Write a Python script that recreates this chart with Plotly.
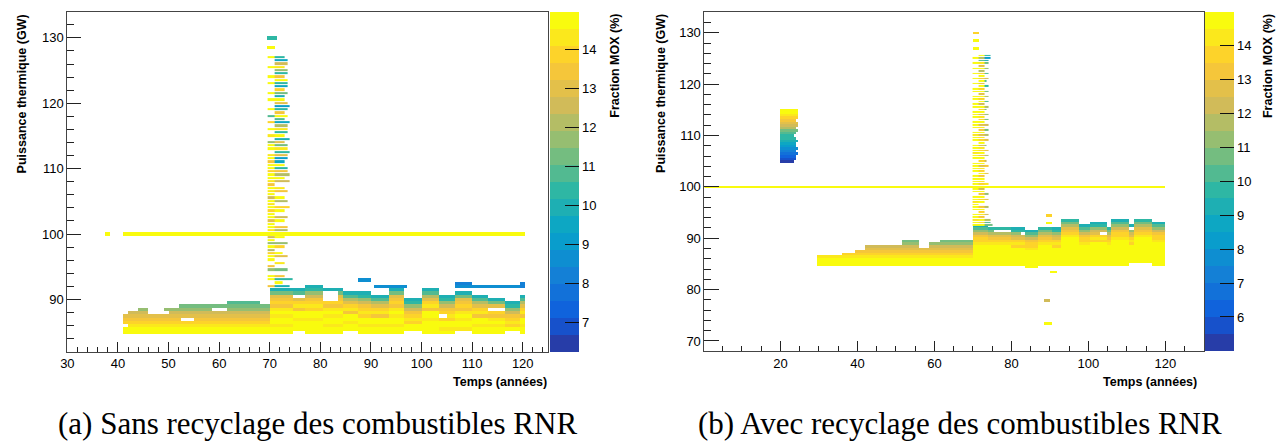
import numpy as np
import plotly.graph_objects as go

NAN = np.nan

# ---------------------------------------------------------------- binning
BIN = 0.5
X_EDGES = np.arange(0.0, 130.0 + BIN / 2, BIN)
Y_EDGES = np.arange(67.75, 134.25 + BIN / 2, BIN)
XC = (X_EDGES[:-1] + X_EDGES[1:]) / 2
YC = (Y_EDGES[:-1] + Y_EDGES[1:]) / 2

# ================================================================ panel (a)
# band before 2070 : x segments, top row (GW), colour by absolute power row
a_pre_x0 = [41, 42, 44, 46, 49, 52, 55.5, 61.5, 68]
a_pre_x1 = [42, 44, 46, 49, 52, 55.5, 61.5, 68, 70]
a_pre_top = [87.5, 88.0, 88.5, 87.5, 88.5, 89.0, 89.0, 89.5, 89.0]
a_pre_bottom = 85.0
# MOX fraction for rows 85.0, 85.5, ... 89.5 GW
a_pre_profile = [14.9, 14.7, 14.3, 13.9, 13.5, 13.0, 12.4, 11.9, 11.3, 10.7]

# band after 2070 : colour read downward from the top row of each segment
a_post_x0 = [70, 74.5, 77, 80.5, 84.5, 87.5, 90, 93.5, 96.5, 100, 103.5, 106.5, 110, 113, 116.5, 119.5]
a_post_x1 = [74.5, 77, 80.5, 84.5, 87.5, 90, 93.5, 96.5, 100, 103.5, 106.5, 110, 113, 116.5, 119.5, 120.5]
a_post_top = [91.5, 91.5, 92.0, 91.5, 91.0, 91.0, 90.5, 91.5, 90.0, 91.5, 90.5, 91.0, 90.5, 90.0, 89.5, 90.5]
a_post_bottom = [85.0, 85.5, 85.0, 85.0, 85.5, 85.0, 85.0, 85.0, 85.5, 85.0, 85.0, 85.5, 85.0, 85.0, 85.5, 85.0]
a_post_kind = [1, 0, 2, 1, 0, 2, 0, 1, 2, 0, 2, 1, 0, 1, 2, 0]
a_prof_0 = [9.9, 10.9, 12.1, 13.2, 13.7, 14.1, 13.6, 14.6, 14.9, 14.3, 14.8, 14.9, 14.6, 14.9, 15.0]
a_prof_1 = [10.1, 11.4, 12.8, 13.6, 13.9, 13.5, 14.4, 14.8, 14.2, 14.9, 14.9, 14.5, 14.9, 15.0, 14.8]
a_prof_2 = [9.8, 10.6, 11.6, 12.6, 13.4, 13.8, 14.2, 13.7, 14.8, 14.9, 14.4, 14.9, 15.0, 14.7, 14.9]

# empty rows inside the bands (x0, x1, y)
a_hole_x0 = [41, 48, 52.5, 58.5, 80.5, 80.5, 80.5, 74.5, 113, 103.5]
a_hole_x1 = [42, 50, 55, 61.5, 83.5, 83.5, 83.5, 77, 116.5, 105]
a_hole_y = [86.0, 88.0, 87.0, 88.5, 90.0, 90.5, 91.0, 90.5, 88.5, 87.5]

# spike around 2070, rows from 127.0 GW down to 92.0 GW
a_spike_top = 127.0
a_spike_a = [15.0, NAN, NAN, 14.8, NAN, NAN, 14.6, NAN, 14.9, NAN,
             NAN, 14.7, NAN, 14.9, NAN, NAN, 14.8, NAN, 10.8, NAN,
             13.8, NAN, 14.9, NAN, 14.5, NAN, 11.6, 14.7, 14.9, NAN,
             14.2, 14.8, 13.6, 14.9, 14.6, 13.9, 14.9, 14.7, 14.4, 13.5,
             14.9, 14.1, 14.8, 12.6, 14.9, 14.3, 14.9, 13.7, 14.8, 14.9,
             12.9, 14.7, 14.9, 14.2, 15.0, 12.4, 14.8, 11.8, 14.6, 12.2,
             13.8, 14.9, 14.9, NAN, 13.6, 11.7, NAN, 14.8, 14.9, NAN,
             13.4]
a_spike_b = [10.6, 9.7, 12.6, 14.4, 11.8, 10.2, 13.3, 14.7, 10.4, 9.3,
             13.8, 11.4, 10.1, 14.6, 12.8, 9.2, 10.5, 13.6, 14.8, 10.9,
             9.6, 12.2, 14.2, 10.4, 14.9, 9.9, 12.9, 11.3, 14.5, 10.6,
             13.2, 8.9, 9.3, 14.7, 10.2, 13.6, 12.1, 14.6, 12.6, NAN,
             14.3, 13.4, NAN, 14.8, 12.2, NAN, 13.8, 14.6, NAN, 12.7,
             14.9, NAN, 13.5, 12.3, 15.0, 14.7, NAN, 11.6, 13.9, NAN,
             14.8, 12.9, NAN, 14.3, NAN, 11.2, NAN, 13.6, 10.3, 14.9,
             10.1]
a_spike_b_end = [73.0, 73.5, 73.5, 73.0, 73.5, 73.5, 73.0, 73.5, 73.5, 73.5,
                 73.0, 73.5, 73.0, 73.0, 73.5, 74.0, 73.5, 73.0, 73.5, 73.0,
                 74.0, 73.5, 73.5, 73.5, 73.0, 74.0, 73.0, 73.5, 73.5, 74.0,
                 73.5, 73.5, 73.0, 73.0, 73.5, 73.5, 74.0, 73.0, 74.0, 73.0,
                 73.0, 73.5, 73.0, 73.0, 73.5, 73.0, 74.0, 73.0, 73.0, 73.5,
                 73.0, 73.0, 73.5, 73.5, 73.0, 73.0, 73.0, 73.5, 73.0, 73.0,
                 72.5, 73.5, 73.0, 73.0, 73.0, 73.5, 73.0, 73.0, 74.5, 72.5,
                 74.0]
a_spike_a_x = (69.5, 71.0)

# single bins drawn on top (line at 100 GW, isolated points, blue rows)
a_bar_x0 = [37.5, 41.0, 69.5, 69.5, 87.5, 90.5, 106.5, 106.5, 119.5, 119.5]
a_bar_x1 = [38.5, 120.5, 71.5, 71.0, 90.0, 97.0, 110.0, 119.5, 120.5, 120.5]
a_bar_y = [100.0, 100.0, 130.0, 128.5, 93.0, 92.0, 92.5, 92.0, 92.0, 92.5]
a_bar_z = [15.0, 15.0, 10.3, 14.9, 8.6, 8.6, 8.4, 8.6, 8.3, 8.3]

a_zmin, a_zmax = 6.24, 14.96
a_ticks = [7, 8, 9, 10, 11, 12, 13, 14]

# ================================================================ panel (b)
b_pre_x0 = [29.5, 36, 39.5, 42, 51.5, 56, 58.5, 61.5]
b_pre_x1 = [36, 39.5, 42, 51.5, 56, 58.5, 61.5, 70]
b_pre_top = [86.5, 87.0, 87.5, 88.5, 89.5, 88.0, 89.0, 89.5]
b_pre_bottom = 85.0
b_pre_profile = [15.0, 14.8, 14.5, 14.1, 13.7, 13.3, 12.7, 12.0, 11.3, 10.6]

b_post_x0 = [70, 74, 80, 83.5, 87, 90.5, 93, 97.5, 100.5, 105, 106, 110.5, 112, 116.5]
b_post_x1 = [74, 80, 83.5, 87, 90.5, 93, 97.5, 100.5, 105, 106, 110.5, 112, 116.5, 120]
b_post_top = [92.5, 92.0, 92.0, 91.5, 92.0, 92.0, 93.5, 92.5, 93.0, 92.0, 93.5, 92.5, 93.5, 93.0]
b_post_bottom = [85.0, 85.0, 85.0, 84.5, 85.0, 85.0, 85.0, 85.0, 85.0, 85.0, 85.0, 85.5, 85.5, 85.0]
b_post_kind = [0, 1, 2, 0, 1, 2, 1, 0, 2, 1, 0, 2, 1, 0]
b_prof_0 = [9.4, 10.2, 11.3, 12.4, 13.1, 13.6, 13.9, 14.3, 14.8, 14.6, 14.9, 15.0, 14.7, 15.0, 14.9, 15.0, 15.0, 14.8, 15.0]
b_prof_1 = [9.6, 10.6, 11.8, 12.7, 13.4, 13.8, 14.2, 14.6, 14.9, 15.0, 14.5, 14.9, 15.0, 14.8, 15.0, 14.9, 15.0, 15.0, 14.9]
b_prof_2 = [9.2, 9.9, 11.0, 12.1, 12.9, 13.5, 14.0, 13.7, 14.5, 14.9, 15.0, 14.8, 15.0, 14.9, 14.6, 15.0, 14.9, 15.0, 15.0]

b_hole_x0 = [110.5, 82.5, 75.5, 103.0]
b_hole_x1 = [112.0, 83.5, 80.0, 105.0]
b_hole_y = [92.0, 91.0, 91.5, 91.0]

# spike around 2070, rows from 125.5 GW down to 92.5 GW
b_spike_top = 125.5
b_spike_a = [NAN, 14.9, NAN, 14.8, NAN, 14.9, NAN, 14.7, NAN, 14.9,
             NAN, 14.8, NAN, 14.6, 14.9, NAN, 14.8, 14.9, NAN, 14.7,
             14.9, NAN, 14.8, 14.9, 14.5, NAN, 14.9, 14.6, 14.9, NAN,
             14.8, 14.3, 14.9, 14.7, NAN, 14.9, 14.6, 14.9, 14.4, 14.8,
             14.9, NAN, 14.7, 14.9, 14.6, 14.9, NAN, 14.8, 14.9, 14.5,
             14.9, 15.0, 14.7, 14.9, NAN, 14.8, 14.9, 14.4, 14.9, 14.6,
             14.9, NAN, 14.8, 14.9, 14.3, 14.9, 14.7]
b_spike_b = [14.6, 11.8, 10.3, 14.2, 12.7, 14.6, 11.6, 13.9, 14.8, 13.4,
             14.5, 12.6, 14.9, 13.8, 14.7, 12.9, 14.5, 13.6, 14.8, 12.2,
             14.6, 13.8, 14.9, 12.8, 14.3, 13.5, 14.8, 12.5, 14.1, 13.2,
             14.9, 12.9, 14.4, 13.6, 14.8, 12.4, 14.2, 13.7, 14.9, 13.1,
             14.5, 13.8, 14.9, 12.7, 14.3, 13.9, 14.7, 13.4, 14.9, 14.2,
             13.6, 15.0, 12.2, 14.6, 13.3, 14.8, 13.9, 14.5, NAN, 13.2,
             14.7, 13.7, 14.4, 13.0, 14.8, 13.5, 14.9]
b_spike_c = [9.6, 8.0, 9.0, 10.6, NAN, 11.2, NAN, 10.1, NAN, 12.0,
             10.4, NAN, 9.9, NAN, 10.8, NAN, 11.5, NAN, 10.2, NAN,
             11.9, 10.5, NAN, 11.4, NAN, 10.9, NAN, 12.3, NAN, 10.7,
             NAN, 11.8, NAN, 12.6, NAN, 11.1, NAN, 12.8, NAN, 11.6,
             NAN, 12.4, NAN, 13.0, NAN, NAN, 12.9, NAN, NAN, NAN,
             14.0, NAN, NAN, NAN, 11.0, NAN, 12.6, NAN, NAN, 11.5,
             NAN, NAN, 12.1, NAN, 11.7, 10.2, 10.6]
b_spike_c_end = [74.5, 74.5, 74.0, 74.0, 74.0, 74.0, 74.0, 74.0, 74.0, 74.0,
                 73.5, 74.0, 74.0, 74.0, 74.0, 74.0, 74.0, 74.0, 74.0, 74.0,
                 74.0, 73.5, 74.0, 74.0, 74.0, 74.0, 74.0, 74.0, 74.0, 74.0,
                 74.0, 74.0, 74.0, 74.0, 74.0, 73.5, 74.0, 74.0, 74.0, 74.0,
                 74.0, 73.5, 74.0, 74.0, 74.0, 74.0, 74.0, 74.0, 74.0, 74.0,
                 74.0, 74.0, 74.0, 74.0, 74.0, 74.0, 74.0, 74.0, 74.0, 74.0,
                 74.0, 74.0, 74.0, 74.0, 74.5, 74.5, 75.0]
b_spike_a_x = (70.0, 71.5)
b_spike_b_x = (71.5, 73.0)

b_bar_x0 = [0.0, 70.0, 70.0, 70.0, 89.0, 89.0, 90.0, 88.5, 88.5]
b_bar_x1 = [120.0, 71.5, 71.5, 71.5, 90.5, 90.5, 92.0, 90.0, 90.5]
b_bar_y = [100.0, 130.0, 128.5, 127.0, 94.5, 93.0, 83.5, 78.0, 73.5]
b_bar_z = [15.0, 13.6, 14.9, 14.9, 13.7, 14.9, 14.9, 12.4, 14.9]

# group of early cores near 2020 (rows 105.0 ... 115.0 GW)
b_block_x0 = 20.0
b_block_bottom = 105.0
b_block_z = [5.2, 5.7, 6.3, 6.8, 7.2, 7.7, 8.1, 8.6, 9.0, 9.5, 9.9,
             10.4, 10.9, 11.5, 12.0, 12.6, 13.1, 13.6, 14.0, 14.5, 14.9]
b_block_end = [23.5, 24.0, 24.0, 24.5, 24.0, 24.5, 24.0, 24.0, 24.5, 24.0, 23.5,
               24.0, 24.5, 24.0, 24.5, 24.5, 24.0, 24.5, 24.5, 24.5, 24.5]

b_zmin, b_zmax = 5.0, 15.0
b_ticks = [6, 7, 8, 9, 10, 11, 12, 13, 14]

# ---------------------------------------------------------------- palette
BIRD_STOPS = [0.0, 0.125, 0.25, 0.375, 0.5, 0.625, 0.75, 0.875, 1.0]
BIRD_R = [0.2082, 0.0592, 0.0780, 0.0232, 0.1802, 0.5301, 0.8186, 0.9956, 0.9764]
BIRD_G = [0.1664, 0.3599, 0.5041, 0.6419, 0.7178, 0.7492, 0.7328, 0.7862, 0.9832]
BIRD_B = [0.5293, 0.8684, 0.8385, 0.7914, 0.6425, 0.4662, 0.3499, 0.1968, 0.0539]
N_LEVELS = 20


def bird(t):
    r = np.interp(t, BIRD_STOPS, BIRD_R)
    g = np.interp(t, BIRD_STOPS, BIRD_G)
    b = np.interp(t, BIRD_STOPS, BIRD_B)
    return "rgb(%d,%d,%d)" % (round(r * 255), round(g * 255), round(b * 255))


def contour_scale():
    scale = []
    for i in range(N_LEVELS):
        idx = int((i + 0.99) * 255 / N_LEVELS)
        col = bird(min(idx, 254) / 254)
        scale.append([i / N_LEVELS, col])
        scale.append([(i + 1) / N_LEVELS, col])
    return scale


# ---------------------------------------------------------------- helpers
def empty():
    return np.full((len(YC), len(XC)), NAN)


def paint(grid, x0, x1, y, z):
    cols = (XC >= x0) & (XC < x1)
    row = int(round((y - YC[0]) / BIN))
    grid[row, cols] = z


def fill_absolute(grid, x0s, x1s, tops, bottom, profile):
    for x0, x1, top in zip(x0s, x1s, tops):
        n = int(round((top - bottom) / BIN))
        for k in range(n + 1):
            paint(grid, x0, x1, bottom + k * BIN, profile[k])


def fill_from_top(grid, x0s, x1s, tops, bottoms, kinds, profiles):
    for x0, x1, top, bot, kind in zip(x0s, x1s, tops, bottoms, kinds):
        prof = profiles[kind]
        n = int(round((top - bot) / BIN))
        for k in range(n + 1):
            paint(grid, x0, x1, top - k * BIN, prof[k])


def punch(grid, x0s, x1s, ys):
    for x0, x1, y in zip(x0s, x1s, ys):
        paint(grid, x0, x1, y, NAN)


def bars(grid, x0s, x1s, ys, zs):
    for x0, x1, y, z in zip(x0s, x1s, ys, zs):
        paint(grid, x0, x1, y, z)


def heat(z, axis_id, coloraxis, ygap=0):
    return go.Heatmap(x=X_EDGES, y=Y_EDGES, z=z, coloraxis=coloraxis,
                      xaxis="x" + axis_id, yaxis="y" + axis_id,
                      ygap=ygap, zsmooth=False, hoverinfo="skip")


# ---------------------------------------------------------------- panel (a) grids
a_band = empty()
fill_absolute(a_band, a_pre_x0, a_pre_x1, a_pre_top, a_pre_bottom, a_pre_profile)
fill_from_top(a_band, a_post_x0, a_post_x1, a_post_top, a_post_bottom, a_post_kind,
              [a_prof_0, a_prof_1, a_prof_2])
punch(a_band, a_hole_x0, a_hole_x1, a_hole_y)

a_spike = empty()
for i, (za, zb, xe) in enumerate(zip(a_spike_a, a_spike_b, a_spike_b_end)):
    y = a_spike_top - i * BIN
    if not np.isnan(za):
        paint(a_spike, a_spike_a_x[0], a_spike_a_x[1], y, za)
    if not np.isnan(zb):
        paint(a_spike, a_spike_a_x[1], xe, y, zb)

a_top = empty()
bars(a_top, a_bar_x0, a_bar_x1, a_bar_y, a_bar_z)

# ---------------------------------------------------------------- panel (b) grids
b_band = empty()
fill_absolute(b_band, b_pre_x0, b_pre_x1, b_pre_top, b_pre_bottom, b_pre_profile)
fill_from_top(b_band, b_post_x0, b_post_x1, b_post_top, b_post_bottom, b_post_kind,
              [b_prof_0, b_prof_1, b_prof_2])
punch(b_band, b_hole_x0, b_hole_x1, b_hole_y)
for k, (z, xe) in enumerate(zip(b_block_z, b_block_end)):
    paint(b_band, b_block_x0, xe, b_block_bottom + k * BIN, z)

b_spike = empty()
for i, (za, zb, zc, xe) in enumerate(zip(b_spike_a, b_spike_b, b_spike_c, b_spike_c_end)):
    y = b_spike_top - i * BIN
    if not np.isnan(za):
        paint(b_spike, b_spike_a_x[0], b_spike_a_x[1], y, za)
    if not np.isnan(zb):
        paint(b_spike, b_spike_b_x[0], b_spike_b_x[1], y, zb)
    if not np.isnan(zc):
        paint(b_spike, b_spike_b_x[1], xe, y, zc)

b_top = empty()
bars(b_top, b_bar_x0, b_bar_x1, b_bar_y, b_bar_z)

# ---------------------------------------------------------------- figure
W, H = 1280, 444


def px(x):
    return x / W


def py(y):
    return 1 - y / H


fig = go.Figure()
fig.add_trace(heat(a_band, "", "coloraxis"))
fig.add_trace(heat(a_spike, "", "coloraxis", ygap=1))
fig.add_trace(heat(a_top, "", "coloraxis"))
fig.add_trace(heat(b_band, "2", "coloraxis2"))
fig.add_trace(heat(b_spike, "2", "coloraxis2", ygap=1))
fig.add_trace(heat(b_top, "2", "coloraxis2"))

TICK_FONT = dict(family="Liberation Sans, Arial, sans-serif", size=13, color="black")
AX_COMMON = dict(ticks="inside", tickcolor="#222", showline=True, linecolor="#444",
                 linewidth=1, mirror=True, showgrid=False, zeroline=False,
                 tickfont=TICK_FONT, tickmode="linear")

A_LEFT, A_RIGHT, A_TOP, A_BOT = 60.7, 544.0, 11.7, 351.7
B_LEFT, B_RIGHT, B_TOP, B_BOT = 701.3, 1203.5, 11.7, 351.0


def colorbar(x_left, ticks, top, bot):
    return dict(x=px(x_left), xanchor="left", xpad=0, ypad=0,
                y=(py(top) + py(bot)) / 2, yanchor="middle",
                len=(bot - top) / H, lenmode="fraction",
                thickness=29, thicknessmode="pixels", outlinewidth=0,
                ticks="inside", ticklen=14, tickcolor="#111", tickwidth=1,
                tickvals=ticks, ticktext=[str(t) for t in ticks],
                tickfont=TICK_FONT)


fig.update_layout(
    width=W, height=H, margin=dict(l=0, r=0, t=0, b=0),
    paper_bgcolor="white", plot_bgcolor="white", showlegend=False,
    xaxis=dict(domain=[px(A_LEFT), px(A_RIGHT)], range=[30, 125], tick0=30, dtick=10,
               ticklen=10, minor=dict(ticks="inside", ticklen=5, tick0=30, dtick=2, tickcolor="#222"),
               anchor="y", **AX_COMMON),
    yaxis=dict(domain=[py(A_BOT), py(A_TOP)], range=[82.0, 134.0], tick0=0, dtick=10,
               ticklen=14, minor=dict(ticks="inside", ticklen=7, tick0=0, dtick=2, tickcolor="#222"),
               anchor="x", **AX_COMMON),
    xaxis2=dict(domain=[px(B_LEFT), px(B_RIGHT)], range=[0.25, 130], tick0=0, dtick=20,
                ticklen=10, minor=dict(ticks="inside", ticklen=5, tick0=0, dtick=5, tickcolor="#222"),
                anchor="y2", **AX_COMMON),
    yaxis2=dict(domain=[py(B_BOT), py(B_TOP)], range=[68.05, 134.1], tick0=0, dtick=10,
                ticklen=15, minor=dict(ticks="inside", ticklen=7, tick0=0, dtick=2, tickcolor="#222"),
                anchor="x2", **AX_COMMON),
    coloraxis=dict(colorscale=contour_scale(), cmin=a_zmin, cmax=a_zmax,
                   colorbar=colorbar(546.0, a_ticks, A_TOP, A_BOT)),
    coloraxis2=dict(colorscale=contour_scale(), cmin=b_zmin, cmax=b_zmax,
                    colorbar=colorbar(1204.6, b_ticks, B_TOP, B_BOT)),
)

TITLE_FONT = dict(family="Liberation Sans, Arial, sans-serif", size=12.5, color="black")
CAPTION_FONT = dict(family="Liberation Serif, Times New Roman, serif", size=31, color="black")


def note(text, x, y, xanchor, yanchor, font, angle=0):
    fig.add_annotation(text=text, x=px(x), y=py(y), xref="paper", yref="paper",
                       xanchor=xanchor, yanchor=yanchor, showarrow=False,
                       textangle=angle, font=font)


for ylab_x, xlab_right, cb_title_x in [(16, 545, 611), (658, 1199, 1268)]:
    note("<b>Puissance thermique (GW)</b>", ylab_x, 12, "center", "top", TITLE_FONT, -90)
    note("<b>Temps (années)</b>", xlab_right, 382, "right", "middle", TITLE_FONT)
    note("<b>Fraction MOX (%)</b>", cb_title_x, 12, "center", "top", TITLE_FONT, -90)

note("(a) Sans recyclage des combustibles RNR", 312, 423, "center", "middle", CAPTION_FONT)
note("(b) Avec recyclage des combustibles RNR", 958, 423, "center", "middle", CAPTION_FONT)

fig.write_html("out.html", config={"displayModeBar": False})
